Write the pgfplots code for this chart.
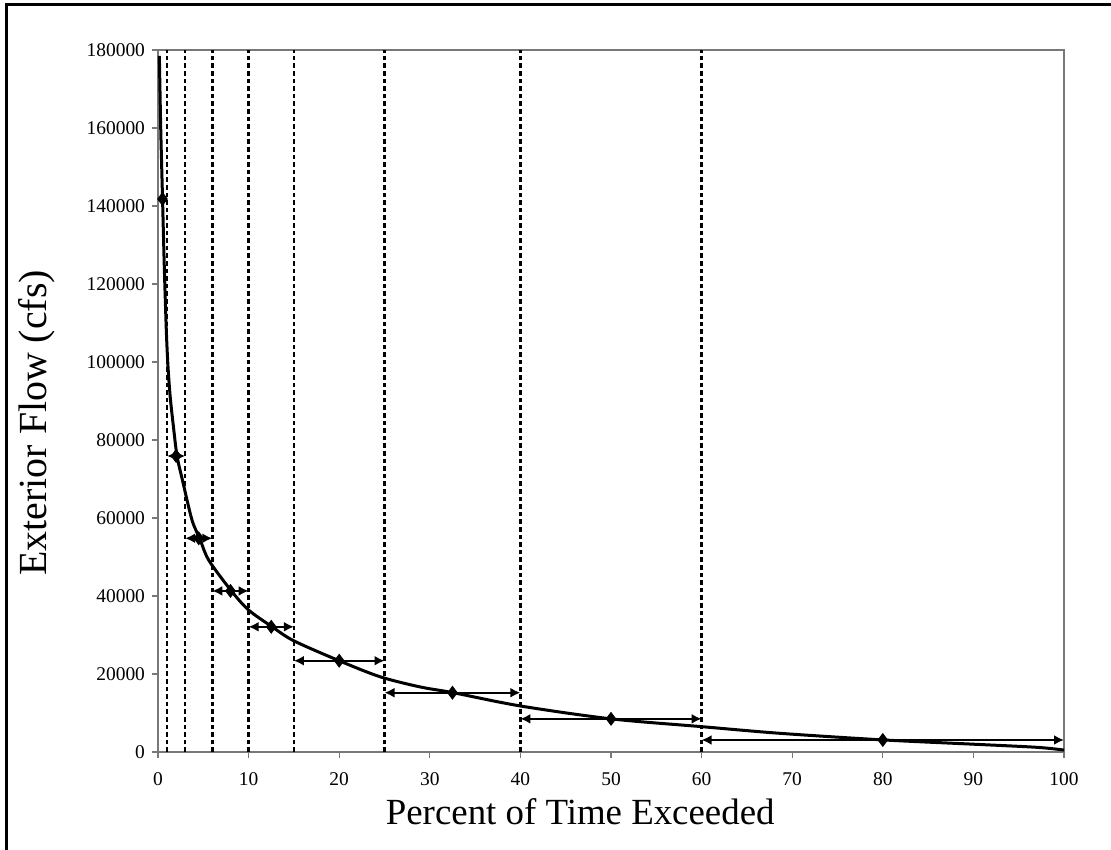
\documentclass[border=0pt]{standalone}
\usepackage{fontspec}
\setmainfont{Liberation Serif}
\usepackage{pgfplots}
\pgfplotsset{compat=1.18}
\usetikzlibrary{arrows.meta}
\definecolor{axgray}{RGB}{120,120,120}
\begin{document}
\begin{tikzpicture}
\useasboundingbox (-79bp,-49bp) rectangle (476.5bp,376bp);
\draw[line width=1.5bp] (-75.5bp,-49bp) -- (-75.5bp,373.5bp) -- (476.5bp,373.5bp);
\begin{axis}[
  at={(0,0)}, anchor=south west,
  scale only axis, width=453bp, height=351bp,
  xmin=0, xmax=100, ymin=0, ymax=180000,
  xtick={0,10,...,100}, ytick={0,20000,...,180000},
  scaled y ticks=false,
  tick pos=left, tick align=outside, major tick length=3bp,
  tick style={axgray, line width=0.6bp},
  axis line style={axgray, line width=0.8bp},
  every tick label/.append style={font=\fontsize{9.75}{11}\selectfont},
  xticklabel style={yshift=-4bp},
  /pgf/number format/assume math mode=true,
  /pgf/number format/1000 sep={},
  yticklabel style={/pgf/number format/fixed},
  xlabel={Percent of Time Exceeded},
  ylabel={Exterior Flow (cfs)},
  xlabel style={font=\fontsize{18.5}{20}\selectfont, at={(axis description cs:0.466,-0.0855)}, anchor=center},
  ylabel style={font=\fontsize{20}{22}\selectfont, at={(axis description cs:-0.1335,0.469)}, anchor=center},
  clip=false,
]
\pgfplotsinvokeforeach{1,3,6,10,15,25,40,60}{
  \addplot[black, line width=1.2bp, dash pattern=on 2.3bp off 1.5bp] coordinates {(#1,0) (#1,180000)};
}
\addplot[black, line width=1.5bp, smooth, tension=0.5] coordinates {
(0.15,178500) (0.3,160000) (0.5,142000) (0.7,124000) (0.92,108000)
(1.1,99000) (1.35,91000) (1.7,83500) (2.1,75900) (2.7,69700) (3.75,59500)
(4.6,54800) (5.6,49200) (8.1,41300) (10,36400) (12.6,32100)
(15,28500) (20,23400) (24.5,19300) (28.9,16700) (32.6,15200)
(40,11800) (50,8500) (60,6500) (68.6,4800) (80,3100)
(90,2000) (97,1200) (100,500)
};
\pgfplotsset{arr/.style={black, line width=1bp, {Latex[length=5bp,width=5bp]}-{Latex[length=5bp,width=5bp]}}}
\addplot[arr] coordinates {(1,75900) (3,75900)};
\addplot[arr] coordinates {(3,54800) (6,54800)};
\addplot[arr] coordinates {(6,41300) (10,41300)};
\addplot[arr] coordinates {(10,32100) (15,32100)};
\addplot[arr] coordinates {(15,23400) (25,23400)};
\addplot[arr] coordinates {(25,15200) (40,15200)};
\addplot[arr] coordinates {(40,8500) (60,8500)};
\addplot[arr] coordinates {(60,3080) (100,3080)};
\addplot[only marks, mark=diamond*, mark size=3.2bp, black] coordinates {
(0.5,141800) (2,75900) (4.5,54800) (8,41300) (12.5,32100)
(20,23400) (32.5,15200) (50,8500) (80,3080)
};
\end{axis}
\end{tikzpicture}
\end{document}
